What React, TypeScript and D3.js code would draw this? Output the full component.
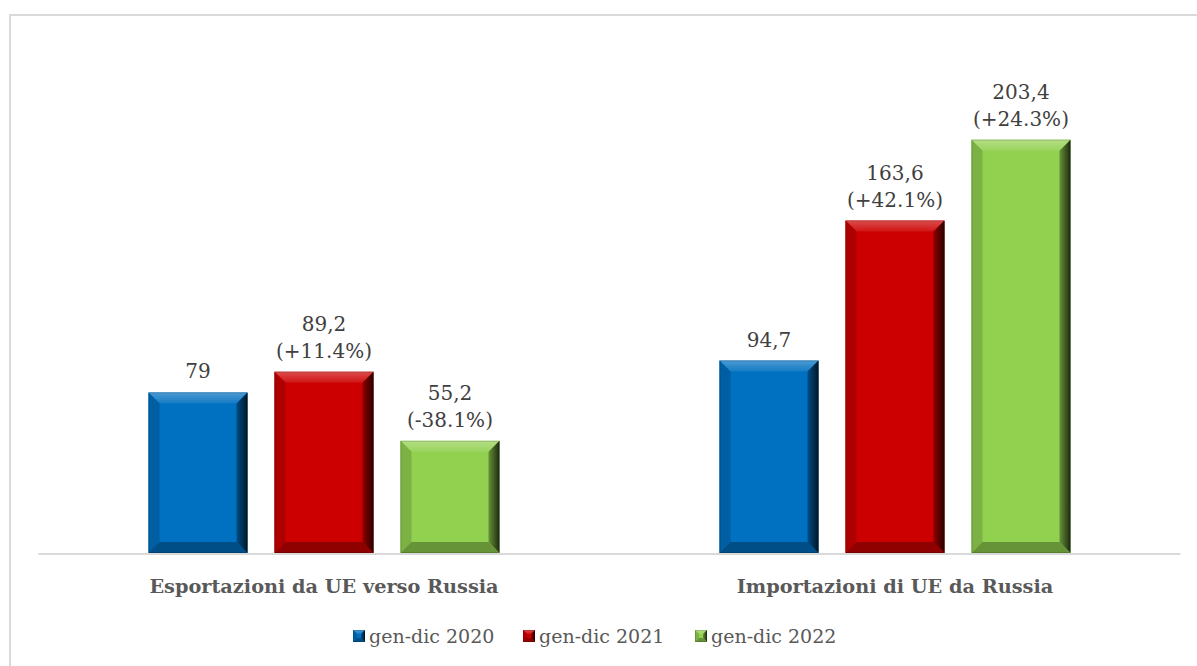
import React from "react";
import * as d3 from "d3";

const categories = ["Esportazioni da UE verso Russia", "Importazioni di UE da Russia"];
const seriesNames = ["gen-dic 2020", "gen-dic 2021", "gen-dic 2022"];
const seriesColors = ["#0070C0", "#CC0000", "#92D050"];
const values2020 = [79, 94.7];
const values2021 = [89.2, 163.6];
const values2022 = [55.2, 203.4];
const labels2020 = [["79"], ["94,7"]];
const labels2021 = [["89,2", "(+11.4%)"], ["163,6", "(+42.1%)"]];
const labels2022 = [["55,2", "(-38.1%)"], ["203,4", "(+24.3%)"]];

const W = 1197;
const H = 666;
const FONT = "'DejaVu Serif', serif";

export default function App() {
  const series = [values2020, values2021, values2022];
  const labels = [labels2020, labels2021, labels2022];
  const x0 = d3.scaleBand<string>().domain(categories).range([38.5, 1180.5]).paddingInner(0).paddingOuter(0);
  const x1 = d3.scaleBand<string>().domain(seriesNames).range([110, x0.bandwidth() - 110]).paddingInner(0.214).paddingOuter(0);
  const y = d3.scaleLinear().domain([0, 250]).range([553, 45]);

  const bevel = (x: number, yt: number, w: number, h: number, color: string, key: string, b = 11) => {
    const si = key.split("-")[0];
    const x2 = x + w, y2 = yt + h;
    const bb = Math.min(b, w / 2, h / 2);
    return (
      <g key={key}>
        <rect x={x} y={yt} width={w} height={h} fill={color} />
        <polygon points={`${x},${yt} ${x2},${yt} ${x2 - bb},${yt + bb} ${x + bb},${yt + bb}`} fill={`url(#tg-${si})`} />
        <polygon points={`${x},${yt} ${x + bb},${yt + bb} ${x + bb},${y2 - bb} ${x},${y2}`} fill={d3.interpolateRgb(color, "#000")(0.15)} />
        <polygon points={`${x2},${yt} ${x2},${y2} ${x2 - bb},${y2 - bb} ${x2 - bb},${yt + bb}`} fill={`url(#rg-${si})`} />
        <polygon points={`${x},${y2} ${x + bb},${y2 - bb} ${x2 - bb},${y2 - bb} ${x2},${y2}`} fill={d3.interpolateRgb(color, "#000")(0.3)} />
        <rect x={x + 0.5} y={yt + 0.5} width={w - 1} height={h - 1} fill="none" stroke="#000" strokeOpacity={0.15} strokeWidth={1} />
      </g>
    );
  };

  return (
    <svg width={W} height={H} style={{ position: "absolute", left: 0, top: 0, background: "#fff" }} fontFamily={FONT}>
      <defs>
        {seriesColors.map((c, i) => (
          <linearGradient key={"r" + i} id={`rg-${i}`} x1="0" x2="1" y1="0" y2="0">
            <stop offset="0" stopColor={d3.interpolateRgb(c, "#000")(0.3)} />
            <stop offset="1" stopColor={d3.interpolateRgb(c, "#000")(0.8)} />
          </linearGradient>
        ))}
        {seriesColors.map((c, i) => (
          <linearGradient key={"t" + i} id={`tg-${i}`} x1="0" x2="0" y1="0" y2="1">
            <stop offset="0" stopColor={d3.interpolateRgb(c, "#fff")(0.3)} />
            <stop offset="1" stopColor={d3.interpolateRgb(c, "#fff")(0.08)} />
          </linearGradient>
        ))}
      </defs>
      <rect x={10} y={15} width={W + 20} height={H + 20} fill="#fff" stroke="#d9d9d9" strokeWidth={2} />
      <line x1={38.5} x2={1180.5} y1={554} y2={554} stroke="#d9d9d9" strokeWidth={2} />
      {categories.map((cat, ci) => (
        <g key={cat}>
          {seriesNames.map((s, si) => {
            const v = series[si][ci];
            const bx = (x0(cat) as number) + (x1(s) as number);
            const bw = x1.bandwidth();
            const top = y(v);
            const lines = labels[si][ci];
            return (
              <g key={s}>
                {bevel(bx, top, bw, y(0) - top, seriesColors[si], `${si}-${ci}`)}
                {lines.map((t, li) => (
                  <text key={li} x={bx + bw / 2} y={top - 14 - (lines.length - 1 - li) * 27} textAnchor="middle" fontSize={20} fill="#404040">
                    {t}
                  </text>
                ))}
              </g>
            );
          })}
          <text x={(x0(cat) as number) + x0.bandwidth() / 2} y={593} textAnchor="middle" fontSize={19.3} fontWeight="bold" fill="#595959">
            {cat}
          </text>
        </g>
      ))}
      {seriesNames.map((s, si) => {
        const lx = [353, 523, 695][si];
        return (
          <g key={s}>
            {bevel(lx, 630, 12, 12, seriesColors[si], `${si}-leg`, 4)}
            <text x={lx + 16} y={643} fontSize={19} fill="#595959">{s}</text>
          </g>
        );
      })}
    </svg>
  );
}
